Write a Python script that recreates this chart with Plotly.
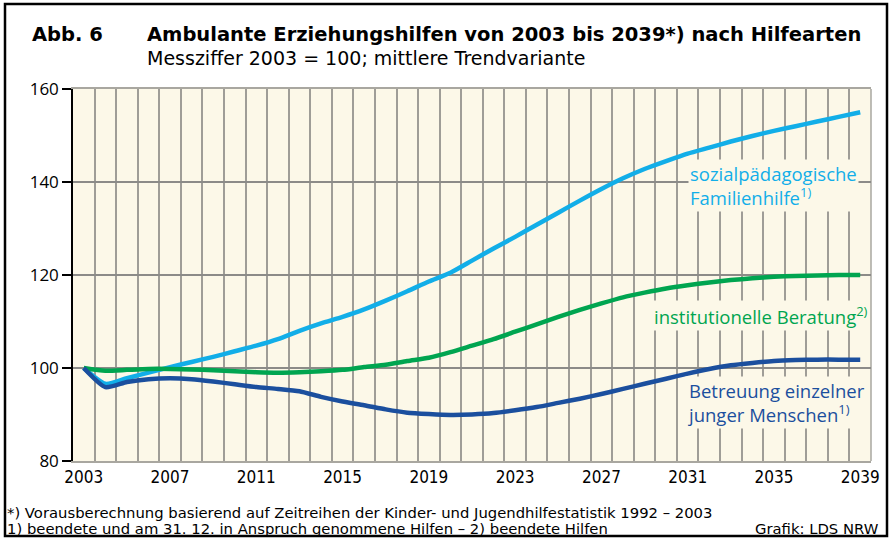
import plotly.graph_objects as go

years = list(range(2003, 2040))

sozialpaed = [100, 96.6, 97.8, 99.0, 100.2, 101.3, 102.4, 103.6, 104.8, 106.2,
              108.0, 109.6, 111.0, 112.6, 114.5, 116.5, 118.6, 120.5, 123.1, 125.7,
              128.2, 130.8, 133.4, 136.0, 138.5, 140.8, 142.8, 144.5, 146.1, 147.4,
              148.7, 149.9, 151.0, 152.0, 153.0, 154.0, 155.0]

institutionell = [100, 99.4, 99.6, 99.8, 99.8, 99.7, 99.5, 99.3, 99.1, 99.0,
                  99.1, 99.3, 99.6, 100.2, 100.7, 101.5, 102.2, 103.4, 104.8, 106.2,
                  107.8, 109.4, 111.0, 112.5, 113.9, 115.2, 116.2, 117.1, 117.8, 118.4,
                  118.9, 119.3, 119.6, 119.8, 119.9, 120.0, 120.0]

betreuung = [100, 95.9, 97.0, 97.6, 97.8, 97.6, 97.1, 96.5, 95.9, 95.5,
             95.0, 93.8, 92.8, 92.0, 91.1, 90.4, 90.1, 89.9, 90.0, 90.3,
             90.9, 91.6, 92.5, 93.4, 94.4, 95.5, 96.6, 97.7, 98.8, 99.8,
             100.6, 101.1, 101.5, 101.7, 101.8, 101.8, 101.8]

xtick_vals = [2003, 2007, 2011, 2015, 2019, 2023, 2027, 2031, 2035, 2039]
ytick_vals = [80, 100, 120, 140, 160]

C_LIGHT = "#12aee8"
C_GREEN = "#00a550"
C_DARK = "#1b4f9e"
BG = "#fcf8e8"
FONT = "Open Sans, Noto Sans, sans-serif"
WIDE = "DejaVu Sans, Verdana, sans-serif"
COND = "DejaVu Sans Condensed, DejaVu Sans, sans-serif"

# plot area in pixels: left 73, right 871, top 89, bottom 461
L, R, T, B = 73, 871, 89, 461
W, H = 895, 539
def px(x):
    return (x - L) / (R - L)
def py(y):
    return (B - y) / (B - T)

fig = go.Figure()
for name, vals, col in [("sozialpädagogische Familienhilfe", sozialpaed, C_LIGHT),
                        ("institutionelle Beratung", institutionell, C_GREEN),
                        ("Betreuung einzelner junger Menschen", betreuung, C_DARK)]:
    fig.add_trace(go.Scatter(x=years, y=vals, mode="lines", name=name,
                             line=dict(color=col, width=4.5, shape="spline", smoothing=0.6),
                             showlegend=False, hoverinfo="skip"))

fig.update_layout(
    width=W, height=H,
    margin=dict(l=L, r=W - R, t=T, b=H - B),
    paper_bgcolor="white", plot_bgcolor=BG,
    font=dict(family=FONT, color="black"),
    xaxis=dict(range=[2002.5, 2039.5], tickmode="array", tickvals=xtick_vals,
               ticktext=[str(v) for v in xtick_vals], showgrid=False,
               ticks="", tickfont=dict(size=17, family=COND), zeroline=False,
               showline=True, linecolor="#a9a7a0", linewidth=1.5, mirror=True,
               minor=dict(tick0=2002.5, dtick=1, showgrid=True,
                          gridcolor="#9f9d97", gridwidth=1.5, ticks="")),
    yaxis=dict(range=[80, 160], tickmode="array", tickvals=ytick_vals,
               showgrid=True, gridcolor="#8c8b88", gridwidth=1.5, zeroline=False,
               showline=True, linecolor="black", linewidth=1.5,
               ticks="outside", ticklen=9, tickcolor="black", tickwidth=1.5,
               tickfont=dict(size=17)),
)

# black reference line at 100
fig.add_shape(type="line", xref="paper", yref="y", x0=0, x1=1, y0=100, y1=100,
              line=dict(color="black", width=1.2), layer="between")
# right border of plot area
fig.add_shape(type="line", xref="paper", yref="paper", x0=1, x1=1, y0=0, y1=1,
              line=dict(color="#a9a7a0", width=1.5), layer="between")
# outer frame
fig.add_shape(type="rect", xref="paper", yref="paper",
              x0=px(5), x1=px(887), y0=py(536), y1=py(4),
              line=dict(color="black", width=2.5), layer="above")

ann = []
ann.append(dict(x=px(30), y=py(35), xref="paper", yref="paper", xanchor="left", yanchor="middle",
                text="<b>Abb. 6</b>", showarrow=False, font=dict(size=19.5, family=WIDE)))
ann.append(dict(x=px(145), y=py(35), xref="paper", yref="paper", xanchor="left", yanchor="middle",
                text="<b>Ambulante Erziehungshilfen von 2003 bis 2039*) nach Hilfearten</b>",
                showarrow=False, font=dict(size=19.5, family=WIDE)))
ann.append(dict(x=px(145), y=py(58), xref="paper", yref="paper", xanchor="left", yanchor="middle",
                text="Messziffer 2003 = 100; mittlere Trendvariante",
                showarrow=False, font=dict(size=19, family=WIDE)))
ann.append(dict(x=px(5), y=py(512), xref="paper", yref="paper", xanchor="left", yanchor="middle",
                text="*) Vorausberechnung basierend auf Zeitreihen der Kinder- und Jugendhilfestatistik 1992 – 2003",
                showarrow=False, font=dict(size=14.8, family=WIDE)))
ann.append(dict(x=px(5), y=py(528), xref="paper", yref="paper", xanchor="left", yanchor="middle",
                text="1) beendete und am 31. 12. in Anspruch genommene Hilfen – 2) beendete Hilfen",
                showarrow=False, font=dict(size=14.8, family=WIDE)))
ann.append(dict(x=px(881), y=py(528), xref="paper", yref="paper", xanchor="right", yanchor="middle",
                text="Grafik: LDS NRW", showarrow=False, font=dict(size=14.8, family=WIDE)))

# series labels
ann.append(dict(x=px(688), y=py(185), xref="paper", yref="paper", xanchor="left", yanchor="middle",
                align="left", text="sozialpädagogische<br>Familienhilfe<sup>1)</sup>",
                showarrow=False, font=dict(size=18.5, color=C_LIGHT), bgcolor=BG))
ann.append(dict(x=px(870), y=py(315), xref="paper", yref="paper", xanchor="right", yanchor="middle",
                align="left", text="institutionelle Beratung<sup>2)</sup>",
                showarrow=False, font=dict(size=18.5, color=C_GREEN), bgcolor=BG))
ann.append(dict(x=px(685), y=py(402), xref="paper", yref="paper", xanchor="left", yanchor="middle",
                align="left", text="Betreuung einzelner<br>junger Menschen<sup>1)</sup>",
                showarrow=False, font=dict(size=18.5, color=C_DARK), bgcolor=BG))

fig.update_layout(annotations=ann)
fig.write_html("out.html", config={"displayModeBar": False},
               post_script="document.body.style.margin='0';document.body.style.padding='0';")
